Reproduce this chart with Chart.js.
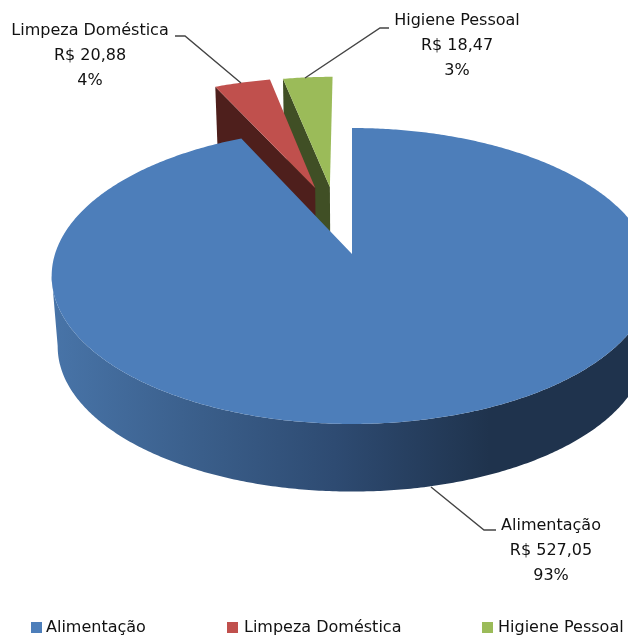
<!DOCTYPE html>
<html>
<head>
<meta charset="utf-8">
<title>Despesas</title>
<style>
  html, body { margin: 0; padding: 0; background: #fff; }
  canvas { display: block; filter: blur(0.45px); }
</style>
<script src="https://cdn.jsdelivr.net/npm/chart.js@4"></script>
</head>
<body>
<canvas id="chart-area" width="628" height="637"></canvas>
<script>
// dados
const categories = ['Alimentação', 'Limpeza Doméstica', 'Higiene Pessoal'];
const values = [527.05, 20.88, 18.47];
const percents = ['93%', '4%', '3%'];
const colors = ['#4d7eba', '#c0504d', '#9bbb59'];
const sideColors = ['#1f334d', '#4e1f1c', '#404f25'];

// projecao 3D do disco (centro, raios, perspectiva, profundidade)
const cx = 352, cy = 254, rx = 297, ry = 144.7, persp = 0.1486;
const depth = 71, depthScale = 0.98;
// deslocamento das fatias separadas, no plano do disco
const explode = [[0, 0], [-0.133, 0.489], [-0.08, 0.497]];

const font = '16px "DejaVu Sans"';
const textColor = '#111';

// ponto do plano -> tela; z=1 e a face de baixo
function project(px, py, z) {
  const w = 1 + persp * py;
  const s = z ? depthScale : 1;
  return [cx + rx * px * s / w, cy - ry * py * s / w + (z ? depth : 0)];
}

// borda da fatia, angulos do Chart.js (0 = direita)
function rimPoints(arc, i, z) {
  const pts = [];
  const a0 = arc.startAngle + Math.PI / 2;
  const a1 = arc.endAngle + Math.PI / 2;
  const n = Math.ceil((a1 - a0) / 0.01);
  for (let k = 0; k <= n; k++) {
    const a = a0 + (a1 - a0) * k / n;
    pts.push(project(explode[i][0] + Math.sin(a), explode[i][1] + Math.cos(a), z));
  }
  return pts;
}

function fillPoly(ctx, pts, fill) {
  ctx.beginPath();
  pts.forEach((p, k) => k ? ctx.lineTo(p[0], p[1]) : ctx.moveTo(p[0], p[1]));
  ctx.closePath();
  ctx.fillStyle = fill;
  ctx.fill();
}

function drawSlice(ctx, arc, i) {
  const top = rimPoints(arc, i, 0);
  const bottom = rimPoints(arc, i, 1);
  const apex = project(explode[i][0], explode[i][1], 0);
  if (i === 0) {
    const grad = ctx.createLinearGradient(52, 0, 628, 0);
    grad.addColorStop(0, '#4874a8');
    grad.addColorStop(0.26, '#3a5e8a');
    grad.addColorStop(0.49, '#2e4b72');
    grad.addColorStop(0.76, sideColors[0]);
    grad.addColorStop(1, sideColors[0]);
    // so a frente aparece: do ponto mais a direita ao mais a esquerda
    const xs = top.map(p => p[0]);
    const from = xs.indexOf(Math.max(...xs));
    const to = xs.indexOf(Math.min(...xs));
    const wall = top.slice(from, to + 1).concat(bottom.slice(from, to + 1).reverse());
    fillPoly(ctx, wall, grad);
  } else {
    // parede da lateral que aparece (raio inicial)
    const apexLow = project(explode[i][0], explode[i][1], 1);
    fillPoly(ctx, [apex, top[0], bottom[0], apexLow], sideColors[i]);
  }
  fillPoly(ctx, [apex].concat(top), colors[i]);
}

function money(v) {
  return 'R$ ' + v.toFixed(2).replace('.', ',');
}

// rotulos: centro do texto, y da primeira linha, linha de chamada
const labelSpots = [
  { x: 551, y: 526, line: [[431, 487], [484, 530], [496, 530]] },
  { x: 90, y: 31, line: [[241, 83], [185, 36], [175, 36]] },
  { x: 457, y: 21, line: [[305, 78], [380, 28], [389, 28]] }
];
// legenda: x do quadrado, x do texto
const legendSpots = [[31, 46], [227, 244], [482, 498]];

const pie3d = {
  id: 'pie3d',
  beforeDatasetsDraw(chart) {
    const ctx = chart.ctx;
    const arcs = chart.getDatasetMeta(0).data;
    ctx.save();
    [2, 1, 0].forEach(i => drawSlice(ctx, arcs[i], i));
    ctx.restore();
    return false;
  },
  afterDraw(chart) {
    const ctx = chart.ctx;
    ctx.save();
    ctx.font = font;
    ctx.fillStyle = textColor;
    ctx.textAlign = 'center';
    ctx.textBaseline = 'middle';
    labelSpots.forEach((spot, i) => {
      ctx.beginPath();
      spot.line.forEach((p, k) => k ? ctx.lineTo(p[0], p[1]) : ctx.moveTo(p[0], p[1]));
      ctx.strokeStyle = '#444';
      ctx.lineWidth = 1.4;
      ctx.stroke();
      ctx.fillText(categories[i], spot.x, spot.y);
      ctx.fillText(money(values[i]), spot.x, spot.y + 25);
      ctx.fillText(percents[i], spot.x, spot.y + 50);
    });
    ctx.textAlign = 'left';
    legendSpots.forEach((spot, i) => {
      ctx.fillStyle = colors[i];
      ctx.fillRect(spot[0], 622, 11, 11);
      ctx.fillStyle = textColor;
      ctx.fillText(categories[i], spot[1], 628);
    });
    ctx.restore();
  }
};

new Chart(document.getElementById('chart-area').getContext('2d'), {
  type: 'pie',
  data: {
    labels: categories,
    datasets: [{ data: values, backgroundColor: colors, borderWidth: 0 }]
  },
  options: {
    responsive: false,
    animation: false,
    plugins: {
      tooltip: { enabled: false },
      legend: { display: false }
    }
  },
  plugins: [pie3d]
});
</script>
</body>
</html>
